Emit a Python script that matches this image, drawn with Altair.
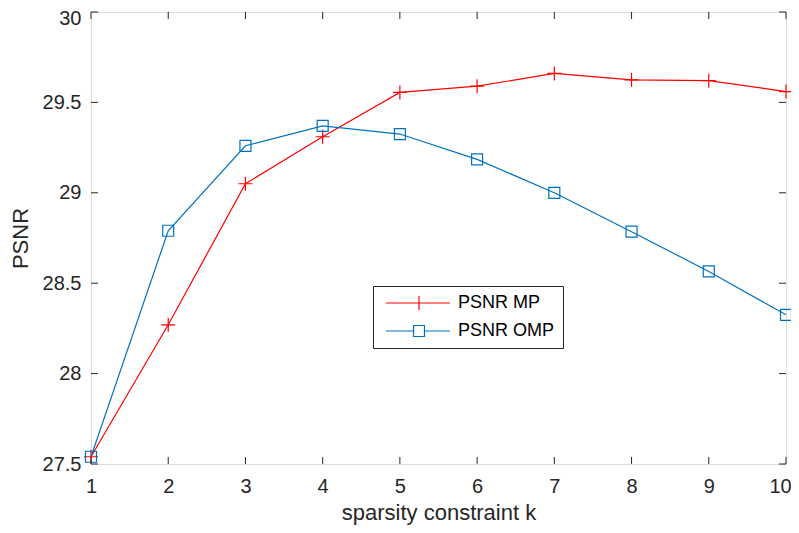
import altair as alt
import pandas as pd

# ---- data ----
k_values = [1, 2, 3, 4, 5, 6, 7, 8, 9, 10]
psnr_mp = [27.54, 28.27, 29.05, 29.31, 29.555, 29.59, 29.66, 29.625, 29.62, 29.56]
psnr_omp = [27.54, 28.79, 29.26, 29.37, 29.325, 29.185, 29.0, 28.785, 28.565, 28.325]
series_names = ["PSNR MP", "PSNR OMP"]
series_colors = ["#FF0000", "#0072BD"]
x_ticks = [1, 2, 3, 4, 5, 6, 7, 8, 9, 10]
y_ticks = [27.5, 28, 28.5, 29, 29.5, 30]

df = pd.DataFrame({
    "k": k_values + k_values,
    "psnr": psnr_mp + psnr_omp,
    "series": [series_names[0]] * len(k_values) + [series_names[1]] * len(k_values),
})
xt = pd.DataFrame({"t": x_ticks})
yt = pd.DataFrame({"t": y_ticks})

W, H = 695, 452
FONT = "Liberation Sans"
AXC = "#262626"
TL = 7  # inward tick length

xs = alt.Scale(domain=[1, 10], nice=False, zero=False)
ys = alt.Scale(domain=[27.5, 30], nice=False, zero=False)

ax_x = alt.Axis(values=x_ticks, ticks=False, domain=False, grid=False, format="d",
                labelFontSize=20, labelFont=FONT, labelColor=AXC, labelPadding=12,
                labelFlush=False, labelOverlap=False,
                labelOffset={"condition": {"test": "datum.value == 10", "value": -6}, "value": 0},
                title="sparsity constraint k", titleFont=FONT, titleFontSize=22,
                titleFontWeight="normal", titleColor=AXC, titlePadding=6)
ax_y = alt.Axis(values=y_ticks, ticks=False, domain=False, grid=False, format="~g",
                labelFontSize=20, labelFont=FONT, labelColor=AXC, labelPadding=10,
                labelFlush=False, labelOverlap=False,
                labelOffset={"condition": {"test": "datum.value == 30", "value": 6}, "value": 0},
                title="PSNR", titleFont=FONT, titleFontSize=22,
                titleFontWeight="normal", titleColor=AXC, titlePadding=10)

base = alt.Chart(df)

marker_shapes = ["M-1,0H1M0,-1V1", "square"]
marker_sizes = [196, 121]
layers = []
for name, color, shp, sz in zip(series_names, series_colors, marker_shapes, marker_sizes):
    sub = base.transform_filter(alt.datum.series == name)
    layers.append(sub.mark_line(color=color, strokeWidth=1.2).encode(
        x=alt.X("k:Q", scale=xs, axis=ax_x),
        y=alt.Y("psnr:Q", scale=ys, axis=ax_y)))
    layers.append(sub.mark_point(color=color, shape=shp, size=sz, filled=False,
                                 strokeWidth=1.2, opacity=1).encode(
        x="k:Q", y="psnr:Q"))

# inward ticks on all four sides
bt = alt.Chart(xt).mark_rule(color=AXC, strokeWidth=1).encode(
    x=alt.X("t:Q"), y=alt.value(H), y2=alt.value(H - TL))
tt = alt.Chart(xt).mark_rule(color=AXC, strokeWidth=1).encode(
    x=alt.X("t:Q"), y=alt.value(0), y2=alt.value(TL))
lt = alt.Chart(yt).mark_rule(color=AXC, strokeWidth=1).encode(
    y=alt.Y("t:Q"), x=alt.value(0), x2=alt.value(TL))
rt = alt.Chart(yt).mark_rule(color=AXC, strokeWidth=1).encode(
    y=alt.Y("t:Q"), x=alt.value(W), x2=alt.value(W - TL))

# legend layer (empty data, explicit domains); symbol = line + marker
LEG_SIZE = 256  # sqrt = 16 px -> unit = 8 px
legend_paths = [
    "M-0.5,0H7.5M3.625,-0.875V0.875",
    "M-0.5,0H2.94M4.31,0H7.5M2.94,-0.69H4.31V0.69H2.94Z",
]
leg_props = dict(orient="none", legendX=282, legendY=274, padding=8,
                 strokeColor=AXC, fillColor="white", labelFontSize=18,
                 labelFont=FONT, labelColor="black", symbolSize=LEG_SIZE,
                 labelOffset=59, rowPadding=9, title=None, symbolStrokeWidth=1.2)
leg = base.transform_filter("false").mark_point(
    filled=False, size=LEG_SIZE, strokeWidth=1.2, opacity=1).encode(
    x="k:Q", y="psnr:Q",
    color=alt.Color("series:N", scale=alt.Scale(domain=series_names, range=series_colors),
                    legend=alt.Legend(**leg_props)),
    shape=alt.Shape("series:N", scale=alt.Scale(domain=series_names, range=legend_paths),
                    legend=alt.Legend(**leg_props)))

chart = alt.layer(*layers, bt, tt, lt, rt, leg).properties(
    width=W, height=H, autosize="none",
    padding={"left": 83, "top": 4, "right": 5, "bottom": 61},
).configure_view(stroke=AXC, strokeWidth=1).configure(background="white")

chart.save("out.html", embed_options={"renderer": "svg", "actions": False})
